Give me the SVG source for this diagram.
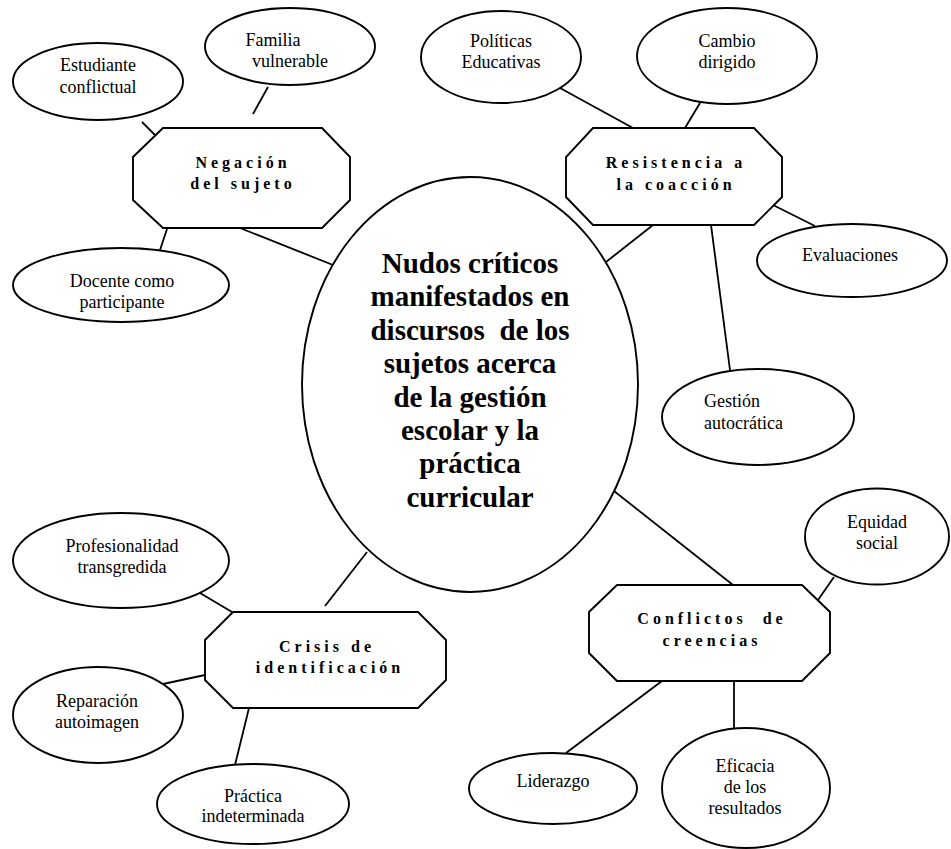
<svg xmlns="http://www.w3.org/2000/svg" width="951" height="849" viewBox="0 0 951 849">
  <style>
    .shape { fill: #ffffff; stroke: #000000; stroke-width: 1.9; }
    .link { stroke: #000000; stroke-width: 1.8; fill: none; }
    .lbl { font-family: "Liberation Serif", "Times New Roman", serif; font-size: 18px; fill: #000000; text-anchor: middle; }
    .left { text-anchor: start; }
    .cat { font-family: "Liberation Serif", "Times New Roman", serif; font-size: 16px; font-weight: bold; letter-spacing: 4px; fill: #000000; text-anchor: middle; }
    .core { font-family: "Liberation Serif", "Times New Roman", serif; font-size: 29px; font-weight: bold; fill: #000000; text-anchor: middle; }
  </style>
  <rect width="951" height="849" fill="#ffffff"/>

  <!-- connectors -->
  <g id="connectors">
    <line class="link" x1="142" y1="122" x2="155" y2="135"/>
    <line class="link" x1="253" y1="114" x2="268" y2="87"/>
    <line class="link" x1="167" y1="229" x2="160" y2="250"/>
    <line class="link" x1="240" y1="228" x2="333" y2="265"/>
    <line class="link" x1="560" y1="88" x2="633" y2="128"/>
    <line class="link" x1="700" y1="103" x2="685" y2="128"/>
    <line class="link" x1="773" y1="205" x2="815" y2="226"/>
    <line class="link" x1="653" y1="225" x2="606" y2="262"/>
    <line class="link" x1="711" y1="225" x2="730" y2="370"/>
    <line class="link" x1="200" y1="593" x2="232" y2="612"/>
    <line class="link" x1="163" y1="684" x2="205" y2="675"/>
    <line class="link" x1="249" y1="708" x2="235" y2="765"/>
    <line class="link" x1="325" y1="606" x2="367" y2="552"/>
    <line class="link" x1="614" y1="491" x2="733" y2="585"/>
    <line class="link" x1="834" y1="577" x2="818" y2="600"/>
    <line class="link" x1="662" y1="681" x2="566" y2="753"/>
    <line class="link" x1="734" y1="681" x2="734" y2="728"/>
  </g>

  <!-- central node -->
  <g id="core">
    <ellipse class="shape" cx="470" cy="384.5" rx="168" ry="207.5"/>
    <text class="core" x="470" y="273">Nudos críticos</text>
    <text class="core" x="470" y="306.4">manifestados en</text>
    <text class="core" x="470" y="339.8">discursos&#160; de los</text>
    <text class="core" x="470" y="373.2">sujetos acerca</text>
    <text class="core" x="470" y="406.6">de la gestión</text>
    <text class="core" x="470" y="440">escolar y la</text>
    <text class="core" x="470" y="473.4">práctica</text>
    <text class="core" x="470" y="506.8">curricular</text>
  </g>

  <!-- category: Negación del sujeto -->
  <g id="negacion">
    <polygon class="shape" points="163,128 322,128 350,157 350,200 322,228 163,228 133,200 133,157"/>
    <text class="cat" x="243" y="168">Negación</text>
    <text class="cat" x="243" y="189">del sujeto</text>
  </g>
  <g id="estudiante">
    <ellipse class="shape" cx="98" cy="81.5" rx="85" ry="38.5"/>
    <text class="lbl" x="98" y="71">Estudiante</text>
    <text class="lbl" x="98" y="93">conflictual</text>
  </g>
  <g id="familia">
    <ellipse class="shape" cx="290" cy="46.5" rx="85" ry="38.5"/>
    <text class="lbl" x="273" y="46">Familia</text>
    <text class="lbl" x="290" y="67">vulnerable</text>
  </g>
  <g id="docente">
    <ellipse class="shape" cx="121" cy="285" rx="108" ry="37"/>
    <text class="lbl" x="122" y="287">Docente como</text>
    <text class="lbl" x="122" y="308">participante</text>
  </g>

  <!-- category: Resistencia a la coacción -->
  <g id="resistencia">
    <polygon class="shape" points="593,128 754,128 782,157 782,197 754,225 593,225 566,197 566,157"/>
    <text class="cat" x="676" y="168">Resistencia a</text>
    <text class="cat" x="676" y="190">la coacción</text>
  </g>
  <g id="politicas">
    <ellipse class="shape" cx="501" cy="57" rx="80" ry="46"/>
    <text class="lbl" x="501" y="47">Políticas</text>
    <text class="lbl" x="501" y="68">Educativas</text>
  </g>
  <g id="cambio">
    <ellipse class="shape" cx="727" cy="56" rx="90" ry="48"/>
    <text class="lbl" x="727" y="47">Cambio</text>
    <text class="lbl" x="727" y="68">dirigido</text>
  </g>
  <g id="evaluaciones">
    <ellipse class="shape" cx="852" cy="260.5" rx="95" ry="36.5"/>
    <text class="lbl" x="850" y="261">Evaluaciones</text>
  </g>
  <g id="gestion">
    <ellipse class="shape" cx="758" cy="417" rx="96" ry="48"/>
    <text class="lbl left" x="704" y="407">Gestión</text>
    <text class="lbl left" x="704" y="429">autocrática</text>
  </g>

  <!-- category: Crisis de identificación -->
  <g id="crisis">
    <polygon class="shape" points="233,612 418,612 446,640 446,680 418,708 233,708 205,680 205,640"/>
    <text class="cat" x="327" y="652">Crisis de</text>
    <text class="cat" x="330" y="673">identificación</text>
  </g>
  <g id="profesionalidad">
    <ellipse class="shape" cx="121" cy="560.5" rx="108" ry="47.5"/>
    <text class="lbl" x="122" y="552">Profesionalidad</text>
    <text class="lbl" x="122" y="573">transgredida</text>
  </g>
  <g id="reparacion">
    <ellipse class="shape" cx="98" cy="715" rx="85" ry="48"/>
    <text class="lbl" x="97" y="707">Reparación</text>
    <text class="lbl" x="97" y="728">autoimagen</text>
  </g>
  <g id="practica">
    <ellipse class="shape" cx="253" cy="804" rx="96" ry="40"/>
    <text class="lbl" x="253" y="802">Práctica</text>
    <text class="lbl" x="253" y="822">indeterminada</text>
  </g>

  <!-- category: Conflictos de creencias -->
  <g id="conflictos">
    <polygon class="shape" points="617,585 802,585 830,612 830,653 802,681 617,681 589,653 589,612"/>
    <text class="cat" x="712" y="624">Conflictos&#160; de</text>
    <text class="cat" x="712" y="646">creencias</text>
  </g>
  <g id="equidad">
    <ellipse class="shape" cx="877" cy="536.5" rx="72" ry="48"/>
    <text class="lbl" x="877" y="528">Equidad</text>
    <text class="lbl" x="877" y="549">social</text>
  </g>
  <g id="liderazgo">
    <ellipse class="shape" cx="553" cy="788.5" rx="84" ry="35.5"/>
    <text class="lbl" x="553" y="787">Liderazgo</text>
  </g>
  <g id="eficacia">
    <ellipse class="shape" cx="746" cy="788" rx="84" ry="60"/>
    <text class="lbl" x="745" y="772">Eficacia</text>
    <text class="lbl" x="745" y="793">de los</text>
    <text class="lbl" x="745" y="814">resultados</text>
  </g>
</svg>
